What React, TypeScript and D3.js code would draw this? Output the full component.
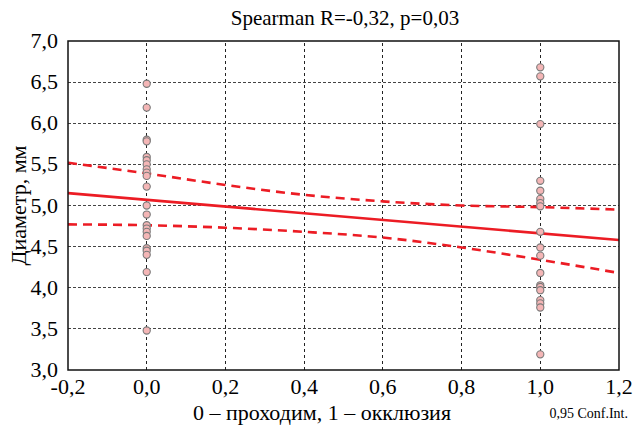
import React from 'react'
import * as d3 from 'd3'

// measured diameters, group 0 (проходим) and group 1 (окклюзия)
const group0 = [6.48, 6.19, 5.80, 5.78, 5.59, 5.55, 5.50, 5.44, 5.40, 5.36, 5.23, 5.00, 4.89, 4.76, 4.72, 4.68, 4.63, 4.48, 4.45, 4.40, 4.19, 3.48]
const group1 = [6.68, 6.57, 5.99, 5.30, 5.18, 5.08, 5.03, 4.99, 4.68, 4.49, 4.39, 4.18, 4.03, 4.01, 3.97, 3.85, 3.81, 3.76, 3.19]

// regression line and 0.95 conf. band
const fitX = [-0.2, 1.2]
const fitY = [5.15, 4.58]
const bandX = [-0.2, 0.0, 0.2, 0.4, 0.6, 0.8, 1.0, 1.2]
const bandUpper = [5.52, 5.39, 5.25, 5.13, 5.05, 5.00, 4.98, 4.95]
const bandLower = [4.77, 4.76, 4.73, 4.68, 4.61, 4.49, 4.34, 4.18]

const xTicks = [-0.2, 0.0, 0.2, 0.4, 0.6, 0.8, 1.0, 1.2]
const yTicks = [3.0, 3.5, 4.0, 4.5, 5.0, 5.5, 6.0, 6.5, 7.0]

const title = 'Spearman R=-0,32, p=0,03'
const xTitle = '0 – проходим, 1 – окклюзия'
const yTitle = 'Диаметр, мм'
const confLabel = '0,95 Conf.Int.'

const W = 633, H = 428
const margin = { l: 68, r: 14, t: 41, b: 58 }
const RED = '#ec1c24'
const serif = { fontFamily: 'Tinos, "Liberation Serif", "Times New Roman"' }

const fmt = (v: number) => v.toFixed(1).replace('.', ',')

export default function App() {
    const x = d3.scaleLinear().domain([-0.2, 1.2]).range([margin.l, W - margin.r])
    const y = d3.scaleLinear().domain([3, 7]).range([H - margin.b, margin.t])

    const band = d3.line<number>()
        .x((d, i) => x(bandX[i]))
        .y(d => y(d))
        .curve(d3.curveMonotoneX)

    const pts = [
        ...group0.map(v => ({ g: 0, v })),
        ...group1.map(v => ({ g: 1, v }))
    ]

    return (
        <svg width={W} height={H} style={{ position: 'absolute', left: 0, top: 0, background: '#fff' }}>
            {/* grid */}
            {xTicks.slice(1, -1).map(t => (
                <line key={'gx' + t} x1={x(t)} x2={x(t)} y1={y(3)} y2={y(7)}
                    stroke="#222" strokeWidth={1} strokeDasharray="3,3" shapeRendering="crispEdges" />
            ))}
            {yTicks.slice(1, -1).map(t => (
                <line key={'gy' + t} x1={x(-0.2)} x2={x(1.2)} y1={y(t)} y2={y(t)}
                    stroke="#444" strokeWidth={1} strokeDasharray="3,2" shapeRendering="crispEdges" />
            ))}

            {/* conf band + regression */}
            {[bandUpper, bandLower].map((arr, i) => (
                <path key={'b' + i} d={band(arr) || ''} fill="none" stroke={RED}
                    strokeWidth={2.6} strokeDasharray="9,6" />
            ))}
            <line x1={x(fitX[0])} y1={y(fitY[0])} x2={x(fitX[1])} y2={y(fitY[1])}
                stroke={RED} strokeWidth={2.6} />

            {/* points */}
            {pts.map((d, i) => (
                <circle key={'p' + i} cx={x(d.g)} cy={y(d.v)} r={3.6}
                    fill="#f4b6b6" stroke="#7a7a7a" strokeWidth={1.1} />
            ))}

            {/* frame */}
            <rect x={x(-0.2)} y={y(7)} width={x(1.2) - x(-0.2)} height={y(3) - y(7)}
                fill="none" stroke="#111" strokeWidth={1.5} />

            {/* tick labels */}
            {xTicks.map(t => (
                <text key={'tx' + t} x={x(t)} y={H - margin.b + 24} textAnchor="middle"
                    fontSize={22} style={serif}>{fmt(t)}</text>
            ))}
            {yTicks.map(t => (
                <text key={'ty' + t} x={margin.l - 10} y={y(t) + 7} textAnchor="end"
                    fontSize={22} style={serif}>{fmt(t)}</text>
            ))}

            {/* titles */}
            <text x={345} y={25} textAnchor="middle" fontSize={21} style={serif}>{title}</text>
            <text x={322} y={420} textAnchor="middle" fontSize={22} style={serif}>{xTitle}</text>
            <text transform={`translate(26,${(y(3) + y(7)) / 2}) rotate(-90)`} textAnchor="middle"
                fontSize={22} style={serif}>{yTitle}</text>
            <text x={628} y={418} textAnchor="end" fontSize={14} style={serif}>{confLabel}</text>
        </svg>
    )
}
